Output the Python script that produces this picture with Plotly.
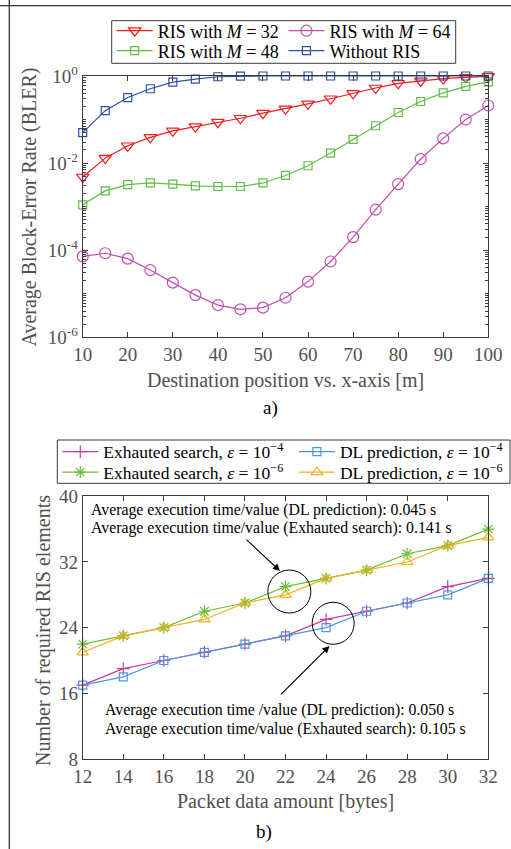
import plotly.graph_objects as go

# ---------------- data: panel a) ----------------
x_pos = [10, 15, 20, 25, 30, 35, 40, 45, 50, 55, 60, 65, 70, 75, 80, 85, 90, 95, 100]
bler_m32 = [0.0048, 0.013, 0.025, 0.039, 0.055, 0.069, 0.087, 0.107, 0.14, 0.176,
            0.23, 0.30, 0.40, 0.53, 0.68, 0.77, 0.87, 0.93, 0.98]
bler_m64 = [7.2e-5, 8.5e-5, 6.4e-5, 3.5e-5, 1.8e-5, 9.3e-6, 5.5e-6, 4.4e-6, 4.8e-6, 8.1e-6,
            1.9e-5, 5.5e-5, 2.0e-4, 8.5e-4, 3.3e-3, 0.0124, 0.037, 0.10, 0.21]
bler_m48 = [0.0011, 0.0023, 0.0032, 0.0035, 0.0033, 0.0030, 0.0029, 0.0029, 0.0035, 0.0052,
            0.0087, 0.017, 0.035, 0.072, 0.145, 0.26, 0.41, 0.58, 0.73]
bler_none = [0.05, 0.16, 0.32, 0.51, 0.72, 0.85, 0.96, 0.99, 1.0, 1.0,
             1.0, 1.0, 1.0, 1.0, 1.0, 1.0, 1.0, 1.0, 1.0]
a_yticks = [1e-6, 1e-4, 1e-2, 1e0]
a_yticklabels = ["10<sup>-6</sup>", "10<sup>-4</sup>", "10<sup>-2</sup>", "10<sup>0</sup>"]
a_xticks = [10, 20, 30, 40, 50, 60, 70, 80, 90, 100]

# ---------------- data: panel b) ----------------
pkt = [12, 14, 16, 18, 20, 22, 24, 26, 28, 30, 32]
exh_1e4 = [17, 19, 20, 21, 22, 23, 25, 26, 27, 29, 30]
dl_1e4 = [17, 18, 20, 21, 22, 23, 24, 26, 27, 28, 30]
exh_1e6 = [22, 23, 24, 26, 27, 29, 30, 31, 33, 34, 36]
dl_1e6 = [21, 23, 24, 25, 27, 28, 30, 31, 32, 34, 35]
b_yticks = [8, 16, 24, 32, 40]
b_xticks = [12, 14, 16, 18, 20, 22, 24, 26, 28, 30, 32]

FONT = "Liberation Serif"
AX = "#3a3a3a"
TXT = "#505050"
W, H = 511, 849

def px(x):
    return x / W

def py(y):
    return 1 - y / H

fig = go.Figure()

# panel a traces
fig.add_trace(go.Scatter(x=x_pos, y=bler_m32, mode="lines+markers", name="RIS with <i>M</i> = 32",
                         line=dict(color="#f01c1c", width=1.2),
                         marker=dict(symbol="triangle-down-open", size=11, color="#f01c1c", line=dict(width=1.2)),
                         xaxis="x", yaxis="y", legend="legend", cliponaxis=False))
fig.add_trace(go.Scatter(x=x_pos, y=bler_m64, mode="lines+markers", name="RIS with <i>M</i> = 64",
                         line=dict(color="#c04fb0", width=1.2),
                         marker=dict(symbol="circle-open", size=11, color="#c04fb0", line=dict(width=1.2)),
                         xaxis="x", yaxis="y", legend="legend2", cliponaxis=False))
fig.add_trace(go.Scatter(x=x_pos, y=bler_m48, mode="lines+markers", name="RIS with <i>M</i> = 48",
                         line=dict(color="#62bd45", width=1.2),
                         marker=dict(symbol="square-open", size=8, color="#62bd45", line=dict(width=1.2)),
                         xaxis="x", yaxis="y", legend="legend3", cliponaxis=False))
fig.add_trace(go.Scatter(x=x_pos, y=bler_none, mode="lines+markers", name="Without RIS",
                         line=dict(color="#2e4fa5", width=1.2),
                         marker=dict(symbol="square-open", size=8, color="#2e4fa5", line=dict(width=1.2)),
                         xaxis="x", yaxis="y", legend="legend4", cliponaxis=False))

# panel b traces
fig.add_trace(go.Scatter(x=pkt, y=exh_1e4, mode="lines+markers", name="Exhauted search, <i>ε</i> = 10<sup>−4</sup>",
                         line=dict(color="#c93a9f", width=1.2),
                         marker=dict(symbol="cross-thin-open", size=9, color="#c93a9f", line=dict(width=1.2, color="#c93a9f")),
                         xaxis="x2", yaxis="y2", legend="legend5", cliponaxis=False))
fig.add_trace(go.Scatter(x=pkt, y=dl_1e4, mode="lines+markers", name="DL prediction, <i>ε</i> = 10<sup>−4</sup>",
                         line=dict(color="#4a98dc", width=1.2),
                         marker=dict(symbol="square-open", size=8, color="#4a98dc", line=dict(width=1.2)),
                         xaxis="x2", yaxis="y2", legend="legend6", cliponaxis=False))
fig.add_trace(go.Scatter(x=pkt, y=exh_1e6, mode="lines+markers", name="Exhauted search, <i>ε</i> = 10<sup>−6</sup>",
                         line=dict(color="#6cbf3a", width=1.2),
                         marker=dict(symbol="asterisk-open", size=10, color="#6cbf3a", line=dict(width=1.2, color="#6cbf3a")),
                         xaxis="x2", yaxis="y2", legend="legend7", cliponaxis=False))
fig.add_trace(go.Scatter(x=pkt, y=dl_1e6, mode="lines+markers", name="DL prediction, <i>ε</i> = 10<sup>−6</sup>",
                         line=dict(color="#f0b020", width=1.2),
                         marker=dict(symbol="triangle-up-open", size=10, color="#f0b020", line=dict(width=1.2)),
                         xaxis="x2", yaxis="y2", legend="legend8", cliponaxis=False))

minor_log = []
for k in range(-6, 0):
    for m in range(2, 10):
        minor_log.append(m * 10 ** k)
for k in (-5, -3, -1):
    minor_log.append(10 ** k)

tickfont = dict(family=FONT, size=19, color=TXT)
axis_common = dict(showline=True, linecolor=AX, linewidth=1, mirror="ticks", ticks="inside",
                   tickcolor=AX, tickwidth=1, showgrid=False, zeroline=False, ticklen=5,
                   automargin=False, tickfont=tickfont)

def leg(xpix, ypix, size=18):
    return dict(x=px(xpix), y=py(ypix), xanchor="left", yanchor="middle", orientation="v",
                borderwidth=0, bgcolor="rgba(0,0,0,0)", itemwidth=36,
                font=dict(family=FONT, size=size, color="black"))

dom_x = [px(82.7), px(488.3)]
fig.update_layout(
    width=W, height=H, margin=dict(l=0, r=0, t=0, b=0, autoexpand=False),
    paper_bgcolor="white", plot_bgcolor="white",
    font=dict(family=FONT, color="black"),
    xaxis=dict(domain=dom_x, anchor="y", range=[10, 100], tickvals=a_xticks, **axis_common),
    yaxis=dict(domain=[py(337.3), py(76)], anchor="x", type="log", range=[-6, 0],
               tickvals=a_yticks, ticktext=a_yticklabels,
               minor=dict(tickvals=minor_log, ticks="inside", ticklen=3, tickcolor=AX, tickwidth=1),
               **axis_common),
    xaxis2=dict(domain=dom_x, anchor="y2", range=[12, 32], tickvals=b_xticks, **axis_common),
    yaxis2=dict(domain=[py(759), py(496.3)], anchor="x2", range=[8, 40], tickvals=b_yticks, **axis_common),
    legend=leg(111.7, 31), legend2=leg(283.4, 31), legend3=leg(111.7, 51), legend4=leg(283.4, 51),
    legend5=leg(57.3, 451.7, 17.5), legend6=leg(293.9, 451.7, 17.5),
    legend7=leg(57.3, 472.3, 17.5), legend8=leg(293.9, 472.3, 17.5),
    showlegend=True,
)

annotations = []
def label(text, xpix, ypix, angle=0, color=TXT, size=20):
    annotations.append(dict(text=text, x=px(xpix), y=py(ypix), xref="paper", yref="paper",
                            xanchor="center", yanchor="middle", textangle=angle, showarrow=False,
                            font=dict(family=FONT, size=size, color=color)))

label("Average Block-Error Rate (BLER)", 29.5, 207, angle=-90)
label("Destination position vs. x-axis [m]", 285, 380)
label("a)", 270, 408, color="black", size=19)
label("Number of required RIS elements", 43.5, 630.5, angle=-90)
label("Packet data amount [bytes]", 285, 801)
label("b)", 264, 832, color="black", size=19)

# text notes in panel b
note_font = dict(family=FONT, size=15.8, color="black")
for txt, xv, yv in [("Average execution time/value (DL prediction): 0.045 s", 12.33, 38.33),
                    ("Average execution time/value (Exhauted search): 0.141 s", 12.33, 36.1),
                    ("Average execution time /value (DL prediction): 0.050 s", 13.02, 13.97),
                    ("Average execution time/value (Exhauted search): 0.105 s", 13.02, 11.66)]:
    annotations.append(dict(text=txt, x=xv, y=yv, xref="x2", yref="y2", xanchor="left", yanchor="middle",
                            showarrow=False, font=note_font))
# arrows
annotations.append(dict(text="", x=21.73, y=30.9, ax=20.0, ay=34.9, xref="x2", yref="y2", axref="x2", ayref="y2",
                        showarrow=True, arrowhead=2, arrowsize=1.3, arrowwidth=1.1, arrowcolor="black"))
annotations.append(dict(text="", x=24.17, y=21.77, ax=21.7, ay=15.68, xref="x2", yref="y2", axref="x2", ayref="y2",
                        showarrow=True, arrowhead=2, arrowsize=1.3, arrowwidth=1.1, arrowcolor="black"))
fig.update_layout(annotations=annotations)

shapes = []
# legend frames
shapes.append(dict(type="rect", xref="paper", yref="paper", x0=px(111.7), x1=px(455.7), y0=py(63.3), y1=py(20.7),
                   line=dict(color=AX, width=1), fillcolor="white", layer="below"))
shapes.append(dict(type="rect", xref="paper", yref="paper", x0=px(57.3), x1=px(510), y0=py(483.3), y1=py(440),
                   line=dict(color=AX, width=1), fillcolor="white", layer="below"))
# highlight circles (pixel-sized, anchored in data coords)
for cx, cy, r in [(22.19, 28.4, 21.5), (24.35, 24.53, 21.0)]:
    shapes.append(dict(type="circle", xref="x2", yref="y2", xsizemode="pixel", ysizemode="pixel",
                       xanchor=cx, yanchor=cy, x0=-r, x1=r, y0=-r, y1=r,
                       line=dict(color="black", width=1)))
# page frame lines (top and left)
shapes.append(dict(type="line", xref="paper", yref="paper", x0=0, x1=1, y0=py(5.7), y1=py(5.7),
                   line=dict(color="#333333", width=1.3)))
shapes.append(dict(type="line", xref="paper", yref="paper", x0=px(9.3), x1=px(9.3), y0=0, y1=1,
                   line=dict(color="#333333", width=1.3)))
fig.update_layout(shapes=shapes)

fig.write_html("out.html", config={"displayModeBar": False},
               post_script="document.body.style.margin='0';document.body.style.overflow='hidden';")
